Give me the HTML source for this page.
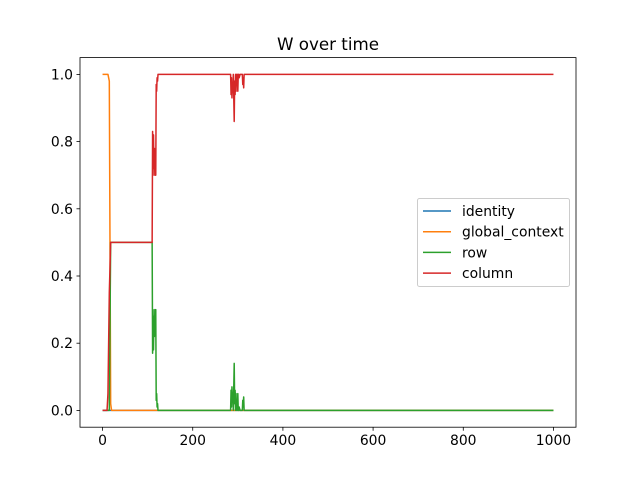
<!DOCTYPE html>
<html><head><meta charset="utf-8"><style>
body{margin:0;background:#fff}
svg{font-family:"DejaVu Sans","Liberation Sans",sans-serif}
</style></head><body>
<svg id="c" width="640" height="480"></svg>
<script>
const tGC=[0,12,15,18,20,1000];
const vGC=[1,1,0.98,0.02,0,0];
const tCol=[0,10,12,15,18,110,111,112,113,114,115,116,117,118,119,120,121,122,123,125,160,284,285,286,287,288,289,290,291,292,293,294,295,296,297,298,299,300,301,302,303,305,310,311,312,313,314,316,737,738,1000];
const vCol=[0,0,0.05,0.35,0.5,0.5,0.83,0.7,0.82,0.72,0.78,0.7,0.76,0.7,0.97,0.95,0.99,0.98,1,1,1,1,0.94,0.99,0.93,0.97,0.95,1,0.93,0.86,0.98,0.94,1,0.95,1,0.97,1,0.95,1,1,0.99,1,1,0.97,0.99,0.96,1,1,1,1,1];
const vRow=vCol.map((v,i)=>tCol[i]<18?0:1-v);
const tId=[0,1000];
const vId=[0,0];
const xTicks=[0,200,400,600,800,1000];
const yTicks=[0,0.2,0.4,0.6,0.8,1.0];
const names=["identity","global_context","row","column"];
const colors=["#1f77b4","#ff7f0e","#2ca02c","#d62728"];

const L=80,R=576,T=57.6,B=427.2;
const X=v=>L+(v+50)/1100*(R-L);
const Y=v=>B-(v+0.05)/1.1*(B-T);
const svg=document.getElementById('c');
const NS='http://www.w3.org/2000/svg';
function mk(tag,a,p){const e=document.createElementNS(NS,tag);for(const k in a)e.setAttribute(k,a[k]);(p||svg).appendChild(e);return e;}
const title=mk('text',{x:(L+R)/2,y:50,'text-anchor':'middle','font-size':16.7});
title.textContent='W over time';


function line(ts,vs,col,name){
  const pl=mk('polyline',{points:ts.map((t,i)=>X(t)+','+Y(vs[i])).join(' '),fill:'none',stroke:col,'stroke-width':1.5,'stroke-linejoin':'round'});
  
  
}
line(tId,vId,colors[0],'identity');
line(tGC,vGC,colors[1],'global-context');
line(tCol,vRow,colors[2],'row');
line(tCol,vCol,colors[3],'column');
const frame=mk('rect',{x:L,y:T,width:R-L,height:B-T,fill:'none',stroke:'#000','stroke-width':0.8});


xTicks.forEach(v=>{
  mk('line',{x1:X(v),x2:X(v),y1:B,y2:B+3.5,stroke:'#000','stroke-width':0.8});
  const t=mk('text',{x:X(v),y:B+18,'text-anchor':'middle','font-size':13.9});
  t.textContent=v;
  
  
});
yTicks.forEach(v=>{
  mk('line',{x1:L-3.5,x2:L,y1:Y(v),y2:Y(v),stroke:'#000','stroke-width':0.8});
  const t=mk('text',{x:L-7,y:Y(v)+5,'text-anchor':'end','font-size':13.9});
  t.textContent=v.toFixed(1);
  
  
});
const lg=mk('g',{});


mk('rect',{x:417.5,y:198.5,width:152,height:88,rx:2,fill:'#fff',stroke:'#ccc','stroke-width':1},lg);
names.forEach((n,i)=>{
  const y=211+i*20.7;
  mk('line',{x1:423,x2:451,y1:y,y2:y,stroke:colors[i],'stroke-width':1.5},lg);
  const t=mk('text',{x:462,y:y+5,'font-size':13.9},lg);
  t.textContent=n;
  
  
});
</script></body></html>
